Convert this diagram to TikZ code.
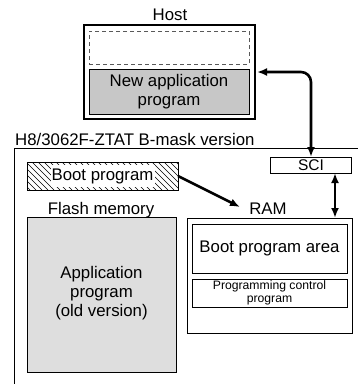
\documentclass[tikz,border=0pt]{standalone}
\usepackage{fontspec}
\setmainfont{Liberation Sans}
\usetikzlibrary{arrows.meta,calc}
\begin{document}
\begin{tikzpicture}[x=1pt,y=-1pt,
  box/.style={draw,line width=0.9pt,rectangle,inner sep=0pt,outer sep=0pt},
  lbl/.style={font=\fontsize{16.8}{18.8}\selectfont,inner sep=0pt,align=center},
  small/.style={font=\fontsize{12.2}{12.8}\selectfont,inner sep=0pt,align=center},
  hatch/.style={line width=0.6pt},
  flow/.style={line width=2.6pt,{Latex[length=10pt,width=8pt]}-{Latex[length=10pt,width=8pt]}},
  flowone/.style={line width=2.6pt,-{Latex[length=10pt,width=8pt]}}]
\useasboundingbox (0,0) rectangle (358,384);
% Host
\node[lbl] (hostlbl) at (170,15) {Host};
\node[box,minimum width=171pt,minimum height=94pt,line width=1.1pt] (host) at (169.5,72) {};
\node[box,draw=black!65,dash pattern=on 4pt off 3pt,minimum width=160pt,minimum height=33pt] (empty) at (169,47.5) {};
\node[box,fill=black!22,minimum width=160pt,minimum height=45pt,lbl] (newapp) at (169,91.5) {New application\\program};
% chip
\node[lbl,anchor=base west] (chiplbl) at (15,145) {H8/3062F-ZTAT B-mask version};
\coordinate (chipbl) at (14,384);
\coordinate (chiptl) at (14,148);
\coordinate (chiptr) at (358,148);
\draw[line width=0.9pt] (chipbl) -- (chiptl) -- (chiptr);
% SCI
\node[box,minimum width=81pt,minimum height=16pt,lbl,font=\fontsize{15.5}{16}\selectfont] (sci) at (311,165) {SCI};
% Boot program (hatched)
\node[box,minimum width=151pt,minimum height=28pt] (boot) at (102.5,176) {};
\begin{scope}
  \clip (boot.north west) rectangle (boot.south east);
  \foreach \i in {-4,2,...,182} \draw[hatch] (\i,162) -- ++(28,28);
\end{scope}
\node[fill=white,minimum width=104pt,minimum height=22pt,lbl] (boottxt) at (boot.center) {Boot program};
\draw[line width=0.9pt] (boot.north west) rectangle (boot.south east);
% Flash
\node[lbl,anchor=base] (flashlbl) at (101,214) {Flash memory};
\node[box,fill=black!13,minimum width=149pt,minimum height=155pt] (flash) at (101.5,294.5) {};
\node[lbl] (apptxt) at (101.5,293) {Application\\program\\(old version)};
% RAM
\node[lbl,anchor=base] (ramlbl) at (268,214) {RAM};
\node[box,minimum width=165pt,minimum height=115pt] (ram) at (269.5,275.5) {};
\node[box,minimum width=155pt,minimum height=49pt,lbl] (bootarea) at (269.5,248.5) {Boot program area};
\node[box,minimum width=155pt,minimum height=28pt,small] (progctrl) at (269.5,293) {Programming control\\program};
% arrows
\coordinate (hostin) at (257,72);
\draw[flow,rounded corners=10pt] (hostin) -| (sci.north);
\coordinate (bootto) at (240,207);
\draw[flowone] (boot.east) -- (bootto);
\draw[flow] ([xshift=24pt]sci.south) -- ([xshift=24pt]sci.south |- ram.north);
\end{tikzpicture}
\end{document}
